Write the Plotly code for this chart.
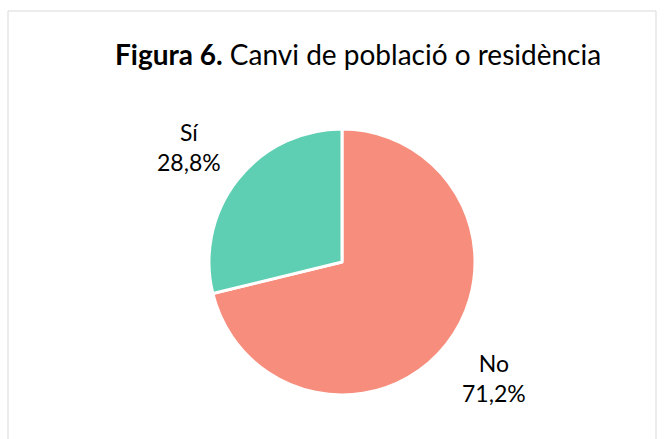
import plotly.graph_objects as go

labels = ["No", "Sí"]
values = [71.2, 28.8]
colors = ["#F78D7C", "#5ECFB2"]
title_bold = "Figura 6."
title_rest = "Canvi de població o residència"

W, H = 664, 439
FONT = "Lato"

fig = go.Figure(go.Pie(
    labels=labels, values=values, sort=False, direction="clockwise", rotation=0,
    marker=dict(colors=colors, line=dict(color="white", width=3)),
    textinfo="none", hoverinfo="label+percent", showlegend=False,
    domain=dict(x=[209/W, 475/W], y=[1-395/H, 1-129/H]),
))

def fmt(v):
    return f"{v:.1f}".replace(".", ",") + "%"

label_pos = {"Sí": (189, 147), "No": (494, 378)}
for lab, val in zip(labels, values):
    px, py = label_pos[lab]
    fig.add_annotation(x=px/W, y=1-py/H, xref="paper", yref="paper",
                       xanchor="center", yanchor="middle",
                       text=f"{lab}<br>{fmt(val)}", showarrow=False,
                       font=dict(family=FONT, size=23, color="#000000"),
                       align="center")

fig.add_annotation(x=358/W, y=1-54/H, xref="paper", yref="paper",
                   xanchor="center", yanchor="middle",
                   text=f"<b>{title_bold}</b> {title_rest}", showarrow=False,
                   font=dict(family=FONT, size=28, color="#000000"))

fig.add_shape(type="rect", xref="paper", yref="paper",
              x0=8/W, x1=656/W, y0=-0.05, y1=1-11/H,
              line=dict(color="#D9D9D9", width=1))

fig.update_layout(width=W, height=H, margin=dict(l=0, r=0, t=0, b=0),
                  paper_bgcolor="white", plot_bgcolor="white")
fig.write_html("out.html", config={"displayModeBar": False},
               post_script="document.body.style.margin='0';")
